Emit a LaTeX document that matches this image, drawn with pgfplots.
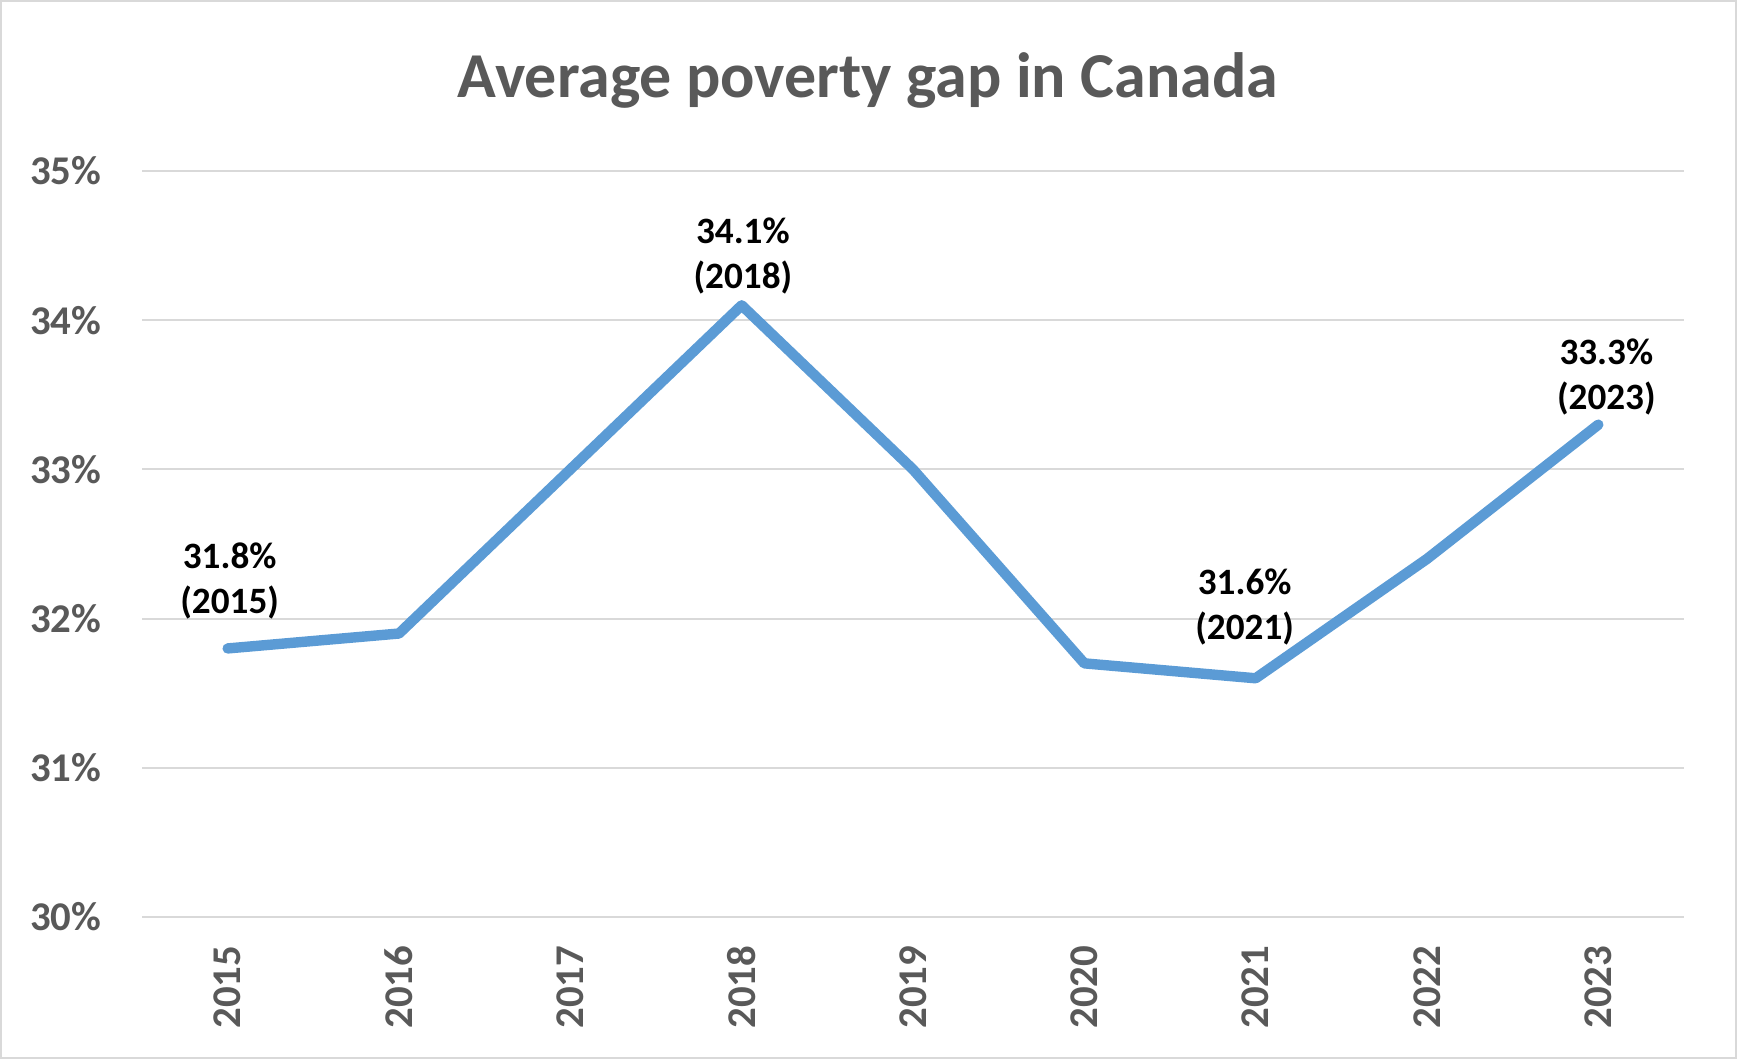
\documentclass[border=0pt]{standalone}
\usepackage{pgfplots}
\pgfplotsset{compat=1.18}
\usepackage{fontspec}
\setmainfont{Carlito}
\definecolor{txtgray}{HTML}{595959}
\definecolor{gridgray}{HTML}{D9D9D9}
\definecolor{lineblue}{HTML}{5B9BD5}
\begin{document}
\begin{tikzpicture}
\useasboundingbox (0,0) rectangle (434.25pt,264.75pt);
\draw[gridgray, line width=0.5pt] (0.25pt,0.25pt) rectangle (434pt,264.5pt);
\node[font=\fontsize{16}{19}\selectfont\bfseries, text=txtgray, inner sep=0pt]
  at (217pt,244.7pt) {Average poverty gap in Canada};
\begin{axis}[
    at={(35.5pt,35.5pt)}, anchor=south west,
    scale only axis,
    width=385.5pt, height=186.5pt,
    xmin=-0.5, xmax=8.5,
    ymin=30, ymax=35,
    axis line style={draw=none},
    major tick length=0pt,
    ymajorgrids,
    grid style={gridgray, line width=0.5pt},
    xtick={0,...,8},
    xticklabels={2015,2016,2017,2018,2019,2020,2021,2022,2023},
    ytick={30,...,35},
    yticklabels={30\%,31\%,32\%,33\%,34\%,35\%},
    ticklabel style={font=\fontsize{10.2}{12}\selectfont\bfseries, text=txtgray},
    yticklabel style={anchor=east, inner sep=0pt, xshift=-10pt},
    xticklabel style={yshift=-7pt, rotate=90, anchor=east, inner sep=0pt},
    clip=false,
]
\addplot[lineblue, line width=2.6pt, line cap=round, line join=round] coordinates {
    (0,31.8) (1,31.9) (2,33.0) (3,34.1) (4,33.0)
    (5,31.7) (6,31.6) (7,32.4) (8,33.3)
};
\tikzset{dlab/.style={anchor=south, align=center, inner sep=0pt,
    font=\fontsize{9.3}{11.25}\selectfont\bfseries, text=black}}
\node[dlab, yshift=7.2pt, xshift=0.5pt] at (axis cs:0,31.8) {31.8\%\\(2015)};
\node[dlab, yshift=2.7pt, xshift=0.3pt] at (axis cs:3,34.1) {34.1\%\\(2018)};
\node[dlab, yshift=8.2pt, xshift=-2.75pt] at (axis cs:6,31.6) {31.6\%\\(2021)};
\node[dlab, yshift=2.3pt, xshift=2pt] at (axis cs:8,33.3) {33.3\%\\(2023)};
\end{axis}
\end{tikzpicture}
\end{document}
